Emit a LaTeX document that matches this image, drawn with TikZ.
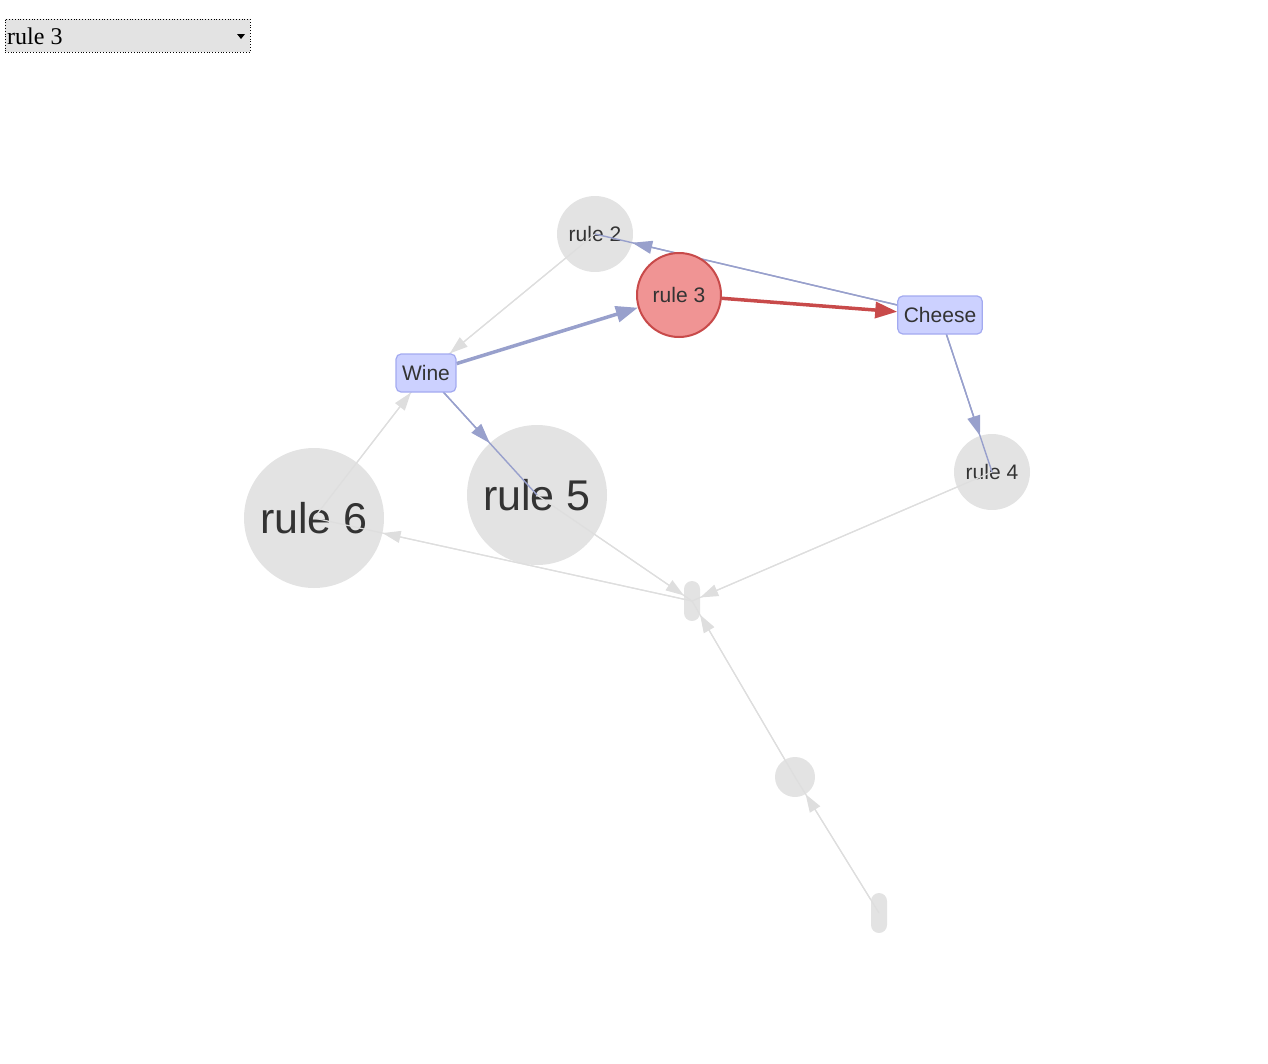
\documentclass[tikz,border=0pt]{standalone}
\usepackage{fontspec}
\setmainfont{Liberation Sans}
\newfontfamily\serifui{Liberation Serif}
\usetikzlibrary{arrows.meta,shapes.misc}
\definecolor{gfill}{HTML}{E3E3E3}
\definecolor{gedge}{HTML}{DEDEDE}
\definecolor{bedge}{HTML}{98A0CC}
\definecolor{bfill}{HTML}{CCD1FF}
\definecolor{bdraw}{HTML}{A3AAF0}
\definecolor{rfill}{HTML}{F09494}
\definecolor{rdraw}{HTML}{C84A4A}
\definecolor{txt}{HTML}{333333}
\pgfdeclarelayer{bg}\pgfdeclarelayer{edges}
\pgfsetlayers{bg,edges,main}
\tikzset{
 gnode/.style={circle,fill=gfill,inner sep=0pt,text=txt},
 pill/.style={rounded rectangle,fill=gfill,inner sep=0pt,minimum width=40pt,minimum height=16pt,rotate=90},
 bbox/.style={rectangle,rounded corners=5pt,fill=bfill,draw=bdraw,line width=1.2pt,text=txt,font=\fontsize{21pt}{21pt}\selectfont,minimum height=38pt,inner xsep=6pt},
 gline/.style={draw=gedge,line width=1.2pt},
 garr/.style={gline,-{Triangle[length=18pt,width=12pt]}},
 barr/.style={draw=bedge,line width=1.4pt,-{Triangle[length=20pt,width=13pt]}},
 bthick/.style={draw=bedge,line width=3.5pt,-{Triangle[length=22pt,width=16pt]}},
 rthick/.style={draw=rdraw,line width=3.5pt,-{Triangle[length=22pt,width=16pt]}},
}
\begin{document}
\begin{tikzpicture}[x=1pt,y=-1pt]
\useasboundingbox (0,0) rectangle (1268,1063);
% dropdown
\node[draw=black,dotted,line width=0.8pt,fill=gfill,minimum width=245pt,minimum height=33pt,inner sep=0pt] (dd) at (127.5,35.5) {};
\node[anchor=west,font=\serifui\fontsize{24pt}{24pt}\selectfont,inner sep=0pt] (ddt) at (7,36) {rule 3};
\fill (237,34) -- (245,34) -- (241,39) -- cycle;
\begin{pgfonlayer}{bg}
\node[gnode,minimum size=76pt,font=\fontsize{21pt}{21pt}\selectfont] (r2) at (595,234) {rule 2};
\node[gnode,minimum size=76pt,font=\fontsize{21pt}{21pt}\selectfont] (r4) at (992,472) {rule 4};
\node[gnode,minimum size=140pt,font=\fontsize{43pt}{43pt}\selectfont] (r5) at (537,495) {rule 5};
\node[gnode,minimum size=140pt,font=\fontsize{43pt}{43pt}\selectfont] (r6) at (314,518) {rule 6};
\node[pill] (A) at (692,601) {};
\node[gnode,minimum size=40pt] (B) at (795,777) {};
\node[pill] (C) at (879,913) {};
\end{pgfonlayer}
\node[circle,fill=rfill,draw=rdraw,line width=2pt,minimum size=84pt,inner sep=0pt,text=txt,font=\fontsize{21pt}{21pt}\selectfont] (r3) at (679,295) {rule 3};
\node[bbox] (ch) at (940,315) {Cheese};
\node[bbox] (w) at (426,373) {Wine};
\begin{pgfonlayer}{edges}
\draw[gline] (r2.center) -- (w.center);
\draw[garr] (r2) -- (w);
\draw[gline] (r6.center) -- (w.center);
\draw[garr] (r6) -- (w);
\draw[gline] (r5.center) -- (A.center);
\draw[garr] (r5) -- (A);
\draw[gline] (r4.center) -- (A.center);
\draw[garr] (r4) -- (A);
\draw[gline] (A.center) -- (r6.center);
\draw[garr] (A) -- (r6);
\draw[gline] (B.center) -- (A.center);
\draw[garr] (B) -- (A);
\draw[gline] (C.center) -- (B.center);
\draw[garr] (C) -- (B);
\draw[draw=bedge,line width=1.4pt] (w.center) -- (r5.center);
\draw[barr] (w) -- (r5);
\draw[draw=bedge,line width=1.4pt] (ch.center) -- (r4.center);
\draw[barr] (ch) -- (r4);
\draw[draw=bedge,line width=1.4pt] (ch.center) -- (r2.center);
\draw[barr] (ch) -- (r2);
\draw[bthick] (w) -- (r3);
\draw[rthick] (r3) -- (ch);
\end{pgfonlayer}
\end{tikzpicture}
\end{document}
